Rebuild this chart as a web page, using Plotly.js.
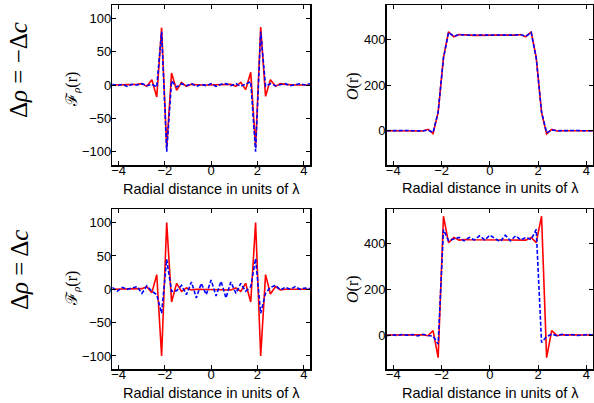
<!DOCTYPE html>
<html><head><meta charset="utf-8">
<script src="https://cdn.plot.ly/plotly-3.0.1.min.js"></script>
<style>html,body{margin:0;padding:0;background:#fff}#chart{width:594px;height:403px}</style>
</head><body><div id="chart"></div>
<script>
// Radial distance (units of lambda)
const radius = [-4.27,-4.06,-3.84,-3.63,-3.42,-3.20,-2.99,-2.78,-2.56,-2.35,-2.14,-1.92,-1.71,-1.49,-1.28,-1.07,-0.85,-0.64,-0.43,-0.21,0,
  0.21,0.43,0.64,0.85,1.07,1.28,1.49,1.71,1.92,2.14,2.35,2.56,2.78,2.99,3.20,3.42,3.63,3.84,4.06,4.27];

// Row 1: delta rho = -delta c
const fRedTop  = [0,0,0,0,0,1,2,-2,8,-18,86,-94,18,-8,4,-2,1,0,0,0,0, 0,0,0,1,-2,4,-7,19,-93,87,-17,8,-2,2,1,0,0,0,0,0];
const fBlueTop = [1,-1,1,-2,1,0,2,-1,1,-3,80,-100,6,-3,2,-1,2,-2,1,-1,2, -2,1,2,-1,2,-2,1,5,-100,80,-2,2,-1,1,2,-1,1,2,0,2];
const oRedTop  = [0,0,0,0,0,0,0,-1,6,-12,80,320,433,411,421,418,418,417,418,418,418, 418,418,417,418,418,421,411,433,320,80,-14,6,-1,0,0,0,0,0,0,0];
const oBlueTop = [0,1,0,0,1,0,0,-1,3,-8,82,318,430,413,420,419,417,418,419,417,418, 419,417,418,418,419,420,413,430,318,82,-9,3,0,1,0,0,1,0,0,0];

// Row 2: delta rho = delta c
const fRedBot  = [0,0,0,0,0,0,1,4,-5,22,-100,100,-19,9,-3,2,-1,0,0,0,0, 0,0,0,-1,2,-3,9,-19,100,-100,22,-7,4,-1,0,0,0,0,0,0];
const fBlueBot = [3,-3,3,0,2,4,-6,5,-3,-8,-36,45,-3,-2,6,-8,11,-13,9,-8,14, -10,12,-13,11,-6,9,-3,4,46,-36,-6,3,6,-1,3,0,4,0,2,1];
const oRedBot  = [0,0,0,0,0,0,0,1,-3,19,-99,520,404,427,415,418,417,417,417,417,417, 417,417,417,417,417,418,415,427,404,520,-99,19,-3,1,0,0,0,0,0,0];
const oBlueBot = [-3,1,-2,2,-1,2,-4,3,-2,-5,-40,461,412,419,427,412,427,416,434,416,437, 422,409,437,412,434,416,427,418,462,-33,-7,4,-3,3,-1,2,-2,1,2,0];

const xTicks = [-4,-2,0,2,4];
const xTickText = ['\u22124','\u22122','0','2','4'];
const fTicks = [-100,-50,0,50,100];
const fTickText = ['\u2212100','\u221250','0','50','100'];
const oTicks = [0,200,400];
const oTickText = ['0','200','400'];

const W = 594, H = 403;
const px = v => v / W, py = v => 1 - v / H;

function red(y, xa, ya){ return {x: radius, y: y, xaxis: xa, yaxis: ya, mode:'lines', line:{color:'#ff0000', width:1.6}, hoverinfo:'skip'}; }
function blue(y, xa, ya){ return {x: radius, y: y, xaxis: xa, yaxis: ya, mode:'lines', line:{color:'#0000ff', width:1.6, dash:'4px,2px'}, hoverinfo:'skip'}; }

const data = [
  red(fRedTop,'x','y'), blue(fBlueTop,'x','y'),
  red(oRedTop,'x2','y2'), blue(oBlueTop,'x2','y2'),
  red(fRedBot,'x3','y3'), blue(fBlueBot,'x3','y3'),
  red(oRedBot,'x4','y4'), blue(oBlueBot,'x4','y4')
];

const tickFont = {family:'Liberation Sans, Arial, sans-serif', size:13, color:'#000'};
function ax(extra){
  return Object.assign({showline:true, linecolor:'#000', linewidth:1.5, mirror:'ticks', ticks:'inside', ticklen:4,
    tickwidth:1, tickcolor:'#000', showgrid:false, zeroline:false, tickfont:tickFont, fixedrange:true}, extra);
}
const xCommon = {range:[-4.27,4.27], tickvals:xTicks, ticktext:xTickText, ticklabelstandoff:-7};
const fY = {range:[-120,120], tickvals:fTicks, ticktext:fTickText, ticklabelstandoff:-3};
const oY = {range:[-150,550], tickvals:oTicks, ticktext:oTickText, ticklabelstandoff:-3};

const leftX = [px(112.3), px(310)], rightX = [px(386.7), px(593)];
const topY = [py(165), py(5)], botY = [py(369.3), py(209.3)];

const xTitle = 'Radial distance in units of \u03bb';
const titleFont = {family:'Liberation Sans, Arial, sans-serif', size:14.5, color:'#000'};
const labFont = {family:'Liberation Serif, DejaVu Serif, serif', size:16, color:'#000'};
const rowFont = {family:'Liberation Serif, DejaVu Serif, serif', size:25, color:'#000'};
const fLabel = '\u2131<sub><i>\u03c1</i></sub>(r)';
const oLabel = '<i>O</i>(r)';

function ann(text, x, y, font, angle){
  return {text:text, x:px(x), y:py(y), xref:'paper', yref:'paper', showarrow:false, xanchor:'center', yanchor:'middle', font:font, textangle:angle||0};
}

const layout = {
  width: W, height: H, margin:{l:0, r:0, t:0, b:0},
  paper_bgcolor:'#fff', plot_bgcolor:'#fff', showlegend:false,
  xaxis: ax(Object.assign({domain:leftX, anchor:'y'}, xCommon)),
  yaxis: ax(Object.assign({domain:topY, anchor:'x'}, fY)),
  xaxis2: ax(Object.assign({domain:rightX, anchor:'y2'}, xCommon)),
  yaxis2: ax(Object.assign({domain:topY, anchor:'x2'}, oY)),
  xaxis3: ax(Object.assign({domain:leftX, anchor:'y3'}, xCommon)),
  yaxis3: ax(Object.assign({domain:botY, anchor:'x3'}, fY)),
  xaxis4: ax(Object.assign({domain:rightX, anchor:'y4'}, xCommon)),
  yaxis4: ax(Object.assign({domain:botY, anchor:'x4'}, oY)),
  annotations: [
    ann(xTitle, 211, 189, titleFont), ann(xTitle, 490, 188, titleFont),
    ann(xTitle, 211, 393, titleFont), ann(xTitle, 490, 393, titleFont),
    ann(fLabel, 72, 90, labFont, -90), ann(fLabel, 72, 289, labFont, -90),
    ann(oLabel, 353, 86, labFont, -90), ann(oLabel, 353, 289, labFont, -90),
    ann('\u0394<i>\u03c1</i> = \u2212\u0394<i>c</i>', 19, 70, rowFont, -90),
    ann('\u0394<i>\u03c1</i> = \u0394<i>c</i>', 19, 270, rowFont, -90)
  ]
};

Plotly.newPlot('chart', data, layout, {staticPlot:true, displayModeBar:false});
</script>
</body></html>
